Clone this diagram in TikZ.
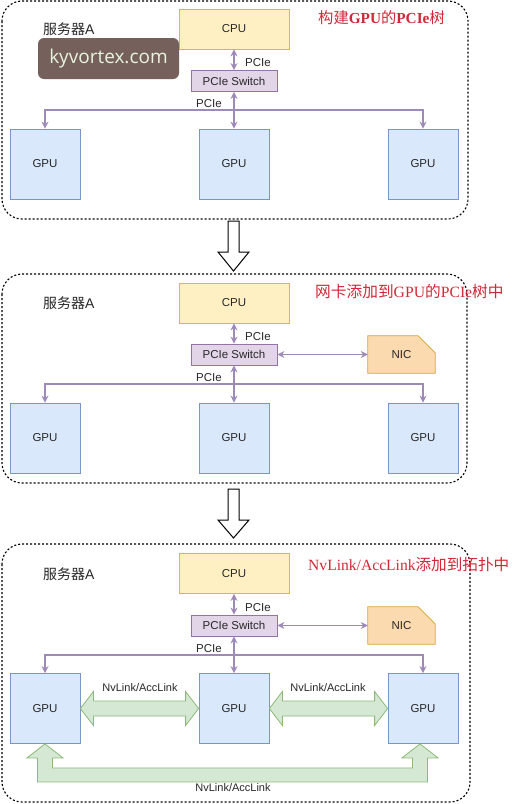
\documentclass[tikz,border=0pt]{standalone}
\usepackage{fontspec}
\setmainfont{Liberation Sans}
\newfontfamily\cjk{Noto Sans CJK SC}
\newfontfamily\serifL{Liberation Serif}
\newfontfamily\wmfont{Open Sans}
\usetikzlibrary{arrows.meta,calc,backgrounds}

\definecolor{cpufill}{RGB}{255,240,196}
\definecolor{cpudraw}{RGB}{214,182,86}
\definecolor{swfill}{RGB}{225,213,231}
\definecolor{swdraw}{RGB}{150,115,166}
\definecolor{gpufill}{RGB}{218,232,252}
\definecolor{gpudraw}{RGB}{120,150,200}
\definecolor{nicfill}{RGB}{252,218,176}
\definecolor{nicdraw}{RGB}{215,165,40}
\definecolor{linkfill}{RGB}{213,232,212}
\definecolor{linkdraw}{RGB}{140,185,120}
\definecolor{pcieline}{RGB}{158,138,184}
\definecolor{titlered}{RGB}{210,40,55}
\definecolor{labeltext}{RGB}{40,40,40}
\definecolor{wmfill}{RGB}{117,96,91}
\definecolor{wmtext}{RGB}{232,244,222}

\tikzset{
  lbl/.style={font=\fontsize{11.5}{13}\selectfont, text=labeltext},
  cpubox/.style={lbl, draw=cpudraw, fill=cpufill, line width=0.8pt,
    minimum width=110pt, minimum height=40pt, inner sep=0pt},
  swbox/.style={lbl, draw=swdraw, fill=swfill, line width=0.8pt,
    minimum width=86pt, minimum height=21pt, inner sep=0pt},
  gpubox/.style={lbl, draw=gpudraw, fill=gpufill, line width=0.8pt,
    minimum width=70pt, minimum height=70pt, inner sep=0pt},
  nicbox/.style={lbl, minimum width=67pt, minimum height=37pt, inner sep=0pt},
  nicshape/.style={draw=nicdraw, fill=nicfill, line width=0.8pt},
  pcie/.style={draw=pcieline, line width=1.1pt},
  bidir/.style={pcie, {Stealth[length=7pt,width=7pt]}-{Stealth[length=7pt,width=7pt]}},
  todown/.style={pcie, -{Stealth[length=7pt,width=7pt]}},
  panel/.style={draw=black, line width=1.1pt, dash pattern=on 2pt off 2pt,
    rounded corners=20pt},
  header/.style={font=\fontsize{14}{16}\selectfont, text=labeltext, anchor=west, inner sep=0pt},
  titletext/.style={text=titlered, anchor=west, inner sep=0pt},
  nvl/.style={draw=linkdraw, fill=linkfill, line width=0.8pt, line join=miter},
  nvltext/.style={lbl, font=\fontsize{11}{13}\selectfont},
  stepdown/.style={draw=black, fill=white, line width=1pt, line join=miter},
}

\begin{document}
\begin{tikzpicture}[x=1pt,y=-1pt]
\useasboundingbox (0,0) rectangle (519,804);
\begin{scope}[on background layer]
\fill[white] (0,0) rectangle (519,804);
\end{scope}

% ---------------- panel 1: PCIe tree of the GPUs ----------------
\draw[panel] (2,1) rectangle (468,219);
\node[header] (hA) at (43,29) {{\cjk 服务器}A};
\node[cpubox] (cpuA) at (234,29) {CPU};
\node[swbox] (swA) at (234,81) {PCIe Switch};
\node[gpubox] (g1A) at (45,164) {GPU};
\node[gpubox] (g2A) at (234,164) {GPU};
\node[gpubox] (g3A) at (423,164) {GPU};
\draw[bidir] (cpuA.south) -- (swA.north);
\draw[bidir] (swA.south) -- (g2A.north);
\coordinate (busA) at (234,110);
\draw[todown] (busA) -| (g1A.north);
\draw[todown] (busA) -| (g3A.north);
\node[lbl] (pA1) at (258,63) {PCIe};
\node[lbl] (pA2) at (209,104) {PCIe};
\node[titletext] (tA) at (318,18) {\fontsize{15.3}{17}\selectfont{\cjk 构建}{\serifL\bfseries GPU}{\cjk 的}{\serifL\bfseries PCIe}{\cjk 树}};
% site label
\node[draw=none, fill=wmfill, rounded corners=6pt, minimum width=141pt, minimum height=41pt,
  inner sep=0pt, text=wmtext, font=\wmfont\fontsize{19}{20}\selectfont] (wm) at (108.5,58.5) {kyvortex.com};

% step arrow 1
\draw[stepdown] (228,221) -- (239,221) -- (239,252) -- (249,252) -- (233.5,271) -- (218,252) -- (228,252) -- cycle;

% ---------------- panel 2: NIC joins the tree ----------------
\draw[panel] (2,274) rectangle (467,483);
\node[header] (hB) at (43,303) {{\cjk 服务器}A};
\node[cpubox] (cpuB) at (234,303) {CPU};
\node[swbox] (swB) at (234,354.5) {PCIe Switch};
\node[nicbox] (nicB) at (401.5,354.5) {NIC};
\begin{scope}[on background layer]
\draw[nicshape] (nicB.south west) -- (nicB.north west) -- ($(nicB.north east)+(-17,0)$)
  -- ($(nicB.north east)+(0,17)$) -- (nicB.south east) -- cycle;
\end{scope}
\node[gpubox] (g1B) at (45,438) {GPU};
\node[gpubox] (g2B) at (234,438) {GPU};
\node[gpubox] (g3B) at (423,438) {GPU};
\draw[bidir] (cpuB.south) -- (swB.north);
\draw[bidir] (swB.south) -- (g2B.north);
\draw[bidir] (swB.east) -- (nicB.west);
\coordinate (busB) at (234,384);
\draw[todown] (busB) -| (g1B.north);
\draw[todown] (busB) -| (g3B.north);
\node[lbl] (pB1) at (258,337) {PCIe};
\node[lbl] (pB2) at (209,378) {PCIe};
\node[titletext] (tB) at (315,292) {\fontsize{15.7}{18}\selectfont{\cjk 网卡添加到}{\serifL GPU}{\cjk 的}{\serifL PCIe}{\cjk 树中}};

% step arrow 2
\draw[stepdown] (228,489) -- (239,489) -- (239,520) -- (249,520) -- (233.5,538) -- (218,520) -- (228,520) -- cycle;

% ---------------- panel 3: NvLink/AccLink added ----------------
\draw[panel] (2,544) rectangle (470,802);
\node[header] (hC) at (43,574) {{\cjk 服务器}A};
\node[cpubox] (cpuC) at (234,573.5) {CPU};
\node[swbox] (swC) at (234,625.5) {PCIe Switch};
\node[nicbox] (nicC) at (401.5,625.5) {NIC};
\begin{scope}[on background layer]
\draw[nicshape] (nicC.south west) -- (nicC.north west) -- ($(nicC.north east)+(-17,0)$)
  -- ($(nicC.north east)+(0,17)$) -- (nicC.south east) -- cycle;
\end{scope}
\node[gpubox] (g1C) at (45,708.5) {GPU};
\node[gpubox] (g2C) at (234,708.5) {GPU};
\node[gpubox] (g3C) at (423,708.5) {GPU};
\draw[bidir] (cpuC.south) -- (swC.north);
\draw[bidir] (swC.south) -- (g2C.north);
\draw[bidir] (swC.east) -- (nicC.west);
\coordinate (busC) at (234,655);
\draw[todown] (busC) -| (g1C.north);
\draw[todown] (busC) -| (g3C.north);
\node[lbl] (pC1) at (258,608) {PCIe};
\node[lbl] (pC2) at (209,649) {PCIe};
\node[titletext] (tC) at (308,565) {\fontsize{15.6}{18}\selectfont{\serifL NvLink/AccLink}{\cjk 添加到拓扑中}};

% wide double arrows between neighbouring GPUs
\def\hl{13}\def\hw{17}\def\sw{7.5}
\draw[nvl] (g1C.east) -- ++(\hl,-\hw) -- ++(0,\hw-\sw) -- ($(g2C.west)+(-\hl,-\sw)$)
  -- ++(0,\sw-\hw) -- (g2C.west) -- ++(-\hl,\hw) -- ++(0,\sw-\hw)
  -- ($(g1C.east)+(\hl,\sw)$) -- ++(0,\hw-\sw) -- cycle;
\draw[nvl] (g2C.east) -- ++(\hl,-\hw) -- ++(0,\hw-\sw) -- ($(g3C.west)+(-\hl,-\sw)$)
  -- ++(0,\sw-\hw) -- (g3C.west) -- ++(-\hl,\hw) -- ++(0,\sw-\hw)
  -- ($(g2C.east)+(\hl,\sw)$) -- ++(0,\hw-\sw) -- cycle;
\node[nvltext] (n12) at (140,688) {NvLink/AccLink};
\node[nvltext] (n23) at (328,688) {NvLink/AccLink};

% U-shaped link from the first to the last GPU
\coordinate (u1) at (g1C.south);
\coordinate (u3) at ($(g3C.south)+(-3,0)$);
\draw[nvl] (u1) -- ($(u1)+(18,14)$) -- ($(u1)+(7.5,14)$) -- ($(u1)+(7.5,24)$)
  -- ($(u3)+(-7.5,24)$) -- ($(u3)+(-7.5,14)$) -- ($(u3)+(-18,14)$) -- (u3)
  -- ($(u3)+(18,14)$) -- ($(u3)+(7.5,14)$) -- ($(u3)+(7.5,38)$)
  -- ($(u1)+(-7.5,38)$) -- ($(u1)+(-7.5,14)$) -- ($(u1)+(-18,14)$) -- cycle;
\node[nvltext] (n13) at (233,788) {NvLink/AccLink};
\end{tikzpicture}
\end{document}
